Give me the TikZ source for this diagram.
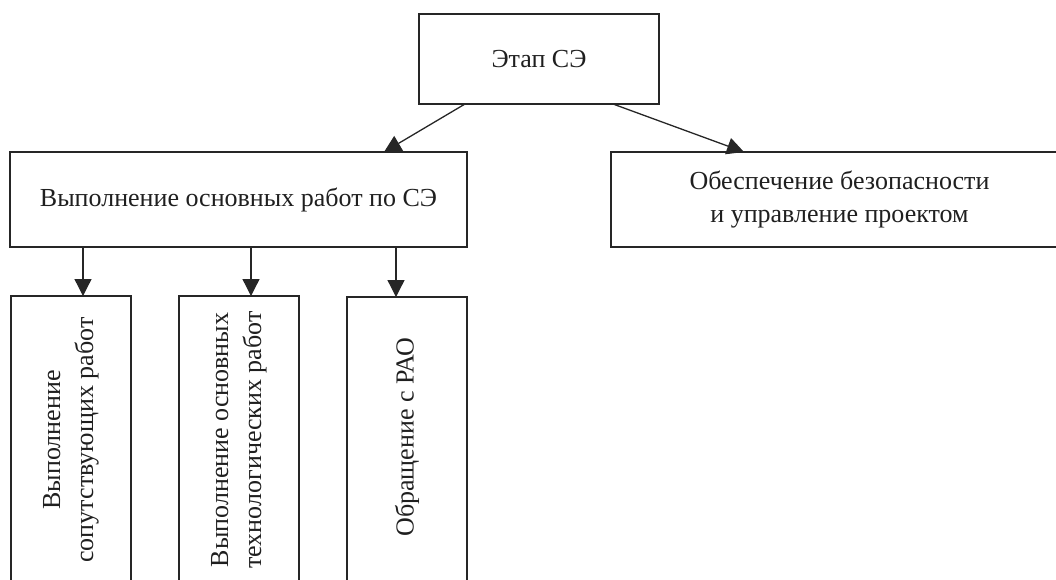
\documentclass[tikz,border=0pt]{standalone}
\usepackage{fontspec}
\setmainfont{Liberation Serif}
\usetikzlibrary{arrows.meta}
\begin{document}
\begin{tikzpicture}[x=1pt,y=-1pt,
  box/.style={draw=black!85, line width=1.5pt, inner sep=0pt, outer sep=0pt, fill=none},
  lbl/.style={text=black!88, align=center, inner sep=0pt, font=\fontsize{26}{33}\selectfont},
  arr/.style={draw=black!85, line width=1.3pt, -{Triangle[length=17pt,width=17pt]}}]
\useasboundingbox (0,0) rectangle (1056,579);
\clip (0,0) rectangle (1056,579);
\node[box, minimum width=240pt, minimum height=90pt] (top) at (539,59) {};
\node[lbl] (ttop) at (top.center) {Этап СЭ};
\node[box, minimum width=457pt, minimum height=95pt] (L) at (238.5,199.5) {};
\node[lbl] (tL) at (L.center) {Выполнение основных работ по СЭ};
\node[box, minimum width=457pt, minimum height=95pt] (R) at (839.5,199.5) {};
\node[lbl] (tR) at (R.center) {Обеспечение безопасности\\и управление проектом};
\node[box, minimum width=120pt, minimum height=288pt] (b1) at (71,440) {};
\node[lbl, rotate=90] (t1) at (b1.center) {Выполнение\\сопутствующих работ};
\node[box, minimum width=120pt, minimum height=288pt] (b2) at (239,440) {};
\node[lbl, rotate=90] (t2) at (b2.center) {Выполнение основных\\технологических работ};
\node[box, minimum width=120pt, minimum height=288pt] (b3) at (407,441) {};
\node[lbl, rotate=90] (t3) at ([yshift=4pt]b3.center) {Обращение с РАО};
\draw[arr] ([xshift=46pt]top.south west) -- ([xshift=374pt]L.north west);
\draw[arr] ([xshift=194pt]top.south west) -- ([xshift=133pt]R.north west);
\draw[arr] ([xshift=73pt]L.south west) -- ([xshift=73pt]L.south west |- b1.north);
\draw[arr] ([xshift=241pt]L.south west) -- ([xshift=241pt]L.south west |- b2.north);
\draw[arr] ([xshift=386pt]L.south west) -- ([xshift=386pt]L.south west |- b3.north);
\end{tikzpicture}
\end{document}
